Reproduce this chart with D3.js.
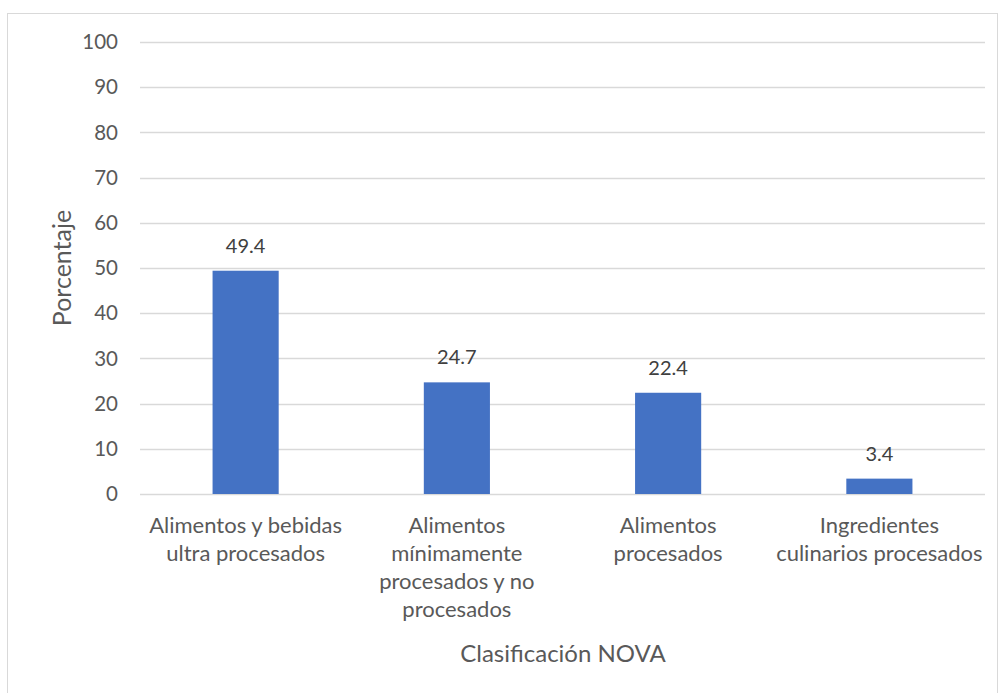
<!DOCTYPE html>
<html><head><meta charset="utf-8">
<script src="https://cdn.jsdelivr.net/npm/d3@7"></script>
<style>body{margin:0;background:#fff}svg{display:block}text{font-family:Lato,"Open Sans",sans-serif;fill:#595959}</style>
</head><body>
<script>
const categories = [
  ["Alimentos y bebidas", "ultra procesados"],
  ["Alimentos", "mínimamente", "procesados y no", "procesados"],
  ["Alimentos", "procesados"],
  ["Ingredientes", "culinarios procesados"]
];
const values = [49.4, 24.7, 22.4, 3.4];
const yTicks = [0, 10, 20, 30, 40, 50, 60, 70, 80, 90, 100];
const yTitle = "Porcentaje";
const xTitle = "Clasificación NOVA";

(function () {
const W = 999, H = 693;
const svg = d3.select("body").append("svg").attr("width", W).attr("height", H);
svg.append("rect").attr("x", 7.5).attr("y", 13.5).attr("width", 990).attr("height", 700)
  .attr("fill", "#fff").attr("stroke", "#d9d9d9");

const mLeft = 140, mRight = 985, mTop = 42, mBottom = 494;
const x = d3.scaleBand().domain(d3.range(categories.length)).range([mLeft, mRight]).padding(0);
const y = d3.scaleLinear().domain([0, 100]).range([mBottom, mTop]);

svg.append("g").selectAll("line").data(yTicks).join("line")
  .attr("x1", mLeft).attr("x2", mRight)
  .attr("y1", d => Math.round(y(d)) + 0.5).attr("y2", d => Math.round(y(d)) + 0.5)
  .attr("stroke", "#d9d9d9").attr("stroke-width", 1.3);

svg.append("g").selectAll("text").data(yTicks).join("text")
  .attr("x", 118).attr("y", d => y(d)).attr("dy", "0.35em")
  .attr("text-anchor", "end").attr("font-size", 20.5).text(d => d);

const bw = x.bandwidth() * 0.313;
svg.append("g").selectAll("rect").data(values).join("rect")
  .attr("x", (d, i) => x(i) + x.bandwidth() / 2 - bw / 2)
  .attr("width", bw)
  .attr("y", d => y(d)).attr("height", d => y(0) - y(d))
  .attr("fill", "#4472C4");

svg.append("g").selectAll("text").data(values).join("text")
  .attr("x", (d, i) => x(i) + x.bandwidth() / 2)
  .attr("y", d => y(d) - 18)
  .attr("text-anchor", "middle").attr("font-size", 20).style("fill", "#404040")
  .text(d => d.toFixed(1));

const lab = svg.append("g").selectAll("text").data(categories).join("text")
  .attr("x", (d, i) => x(i) + x.bandwidth() / 2)
  .attr("y", 533).attr("text-anchor", "middle").attr("font-size", 22);
lab.selectAll("tspan").data(d => d).join("tspan")
  .attr("x", function () { return d3.select(this.parentNode).attr("x"); })
  .attr("dy", (d, i) => i === 0 ? 0 : 28).text(d => d);

svg.append("text").attr("transform", "translate(71,268) rotate(-90)")
  .attr("text-anchor", "middle").attr("font-size", 25).text(yTitle);
svg.append("text").attr("x", 563).attr("y", 662)
  .attr("text-anchor", "middle").attr("font-size", 24).text(xTitle);
})();
</script>
</body></html>
